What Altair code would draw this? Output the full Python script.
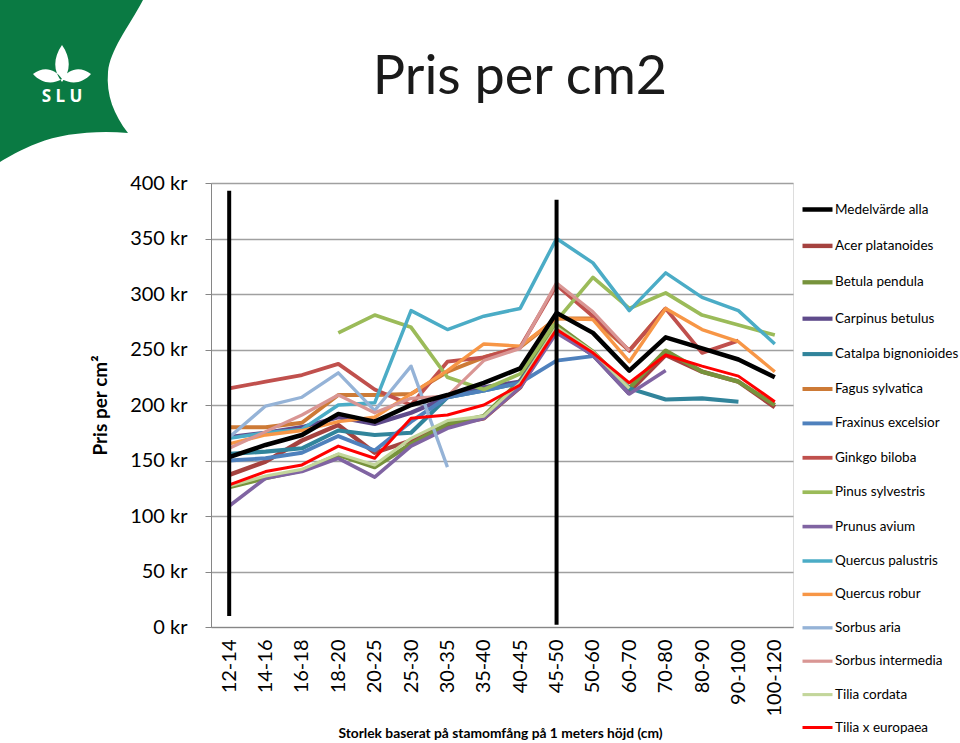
import altair as alt
import pandas as pd

categories = ["12-14", "14-16", "16-18", "18-20", "20-25", "25-30", "30-35", "35-40",
              "40-45", "45-50", "50-60", "60-70", "70-80", "80-90", "90-100", "100-120"]
N = None
medel = [153, 164, 173, 192, 185, 200, 209, 220, 233, 283, 265, 231, 261, 251, 241, 225]
acer = [137, 149, 168, 182, 157, 168, 182, 188, 216, 270, 246, 212, 245, 230, 221, 198]
betula = [126, 134, 141, 155, 144, 165, 183, 190, 222, 272, 248, 215, 249, 230, 221, 200]
carpinus = [171, 175, 180, 189, 183, 193, 207, 216, 221, 268, 245, 210, N, N, N, N]
catalpa = [156, 158, 161, 177, 173, 175, 207, 213, 220, 268, 245, 215, 205, 206, 203, N]
fagus = [180, 180, 184, 209, 209, 210, 230, 243, 252, 278, 278, 249, 287, N, N, N]
fraxinus = [150, 152, 157, 172, 159, 185, 207, 213, 220, 240, 244, N, N, N, N, N]
ginkgo = [215, 221, 227, 237, 214, 200, 239, 243, 252, 308, 280, 249, 287, 247, 258, N]
pinus = [N, N, N, 265, 281, 270, 225, 214, 228, 276, 315, 287, 301, 281, 272, 263]
prunus = [109, 134, 140, 152, 135, 163, 179, 188, 216, 265, 245, 210, 231, N, N, N]
qpalustris = [170, 175, 178, 200, 202, 285, 268, 280, 287, 350, 328, 285, 319, 297, 285, 255]
qrobur = [165, 173, 177, 185, 189, 210, 231, 255, 253, 278, 277, 239, 287, 268, 257, 230]
saria = [171, 199, 207, 229, 195, 235, 144, N, N, N, N, N, N, N, N, N]
sintermedia = [161, 176, 191, 209, 193, 206, 208, 240, 251, 310, 284, 249, N, N, N, N]
tcordata = [127, 136, 142, 156, 146, 170, 186, 190, 220, 270, 248, 215, N, N, N, N]
teuropaea = [128, 140, 146, 163, 152, 188, 191, 200, 218, 268, 247, 220, 245, 235, 226, 203]

series_names = ["Medelvärde alla", "Acer platanoides", "Betula pendula", "Carpinus betulus",
                "Catalpa bignonioides", "Fagus sylvatica", "Fraxinus excelsior", "Ginkgo biloba",
                "Pinus sylvestris", "Prunus avium", "Quercus palustris", "Quercus robur",
                "Sorbus aria", "Sorbus intermedia", "Tilia cordata", "Tilia x europaea"]
series_values = [medel, acer, betula, carpinus, catalpa, fagus, fraxinus, ginkgo, pinus,
                 prunus, qpalustris, qrobur, saria, sintermedia, tcordata, teuropaea]
series_colors = ["#000000", "#A5423F", "#77933C", "#5F4B8B", "#31849B", "#CD7A36", "#4F81BD",
                 "#C0504D", "#9BBB59", "#8064A2", "#4BACC6", "#F79646", "#95B3D7", "#D99694",
                 "#C3D69B", "#FF0000"]
series_widths = [4.5, 3, 3, 3, 3, 3, 3, 3, 3, 3, 3, 3, 3, 3, 3, 4.5]

# vertical marker lines
rule_cats = ["12-14", "45-50"]
rule_low = [10, 2]
rule_high = [393, 385]

rows = []
for name, vals in zip(series_names, series_values):
    for c, v in zip(categories, vals):
        if v is not None:
            rows.append({"cat": c, "series": name, "value": v})
df = pd.DataFrame(rows)
rules_df = pd.DataFrame({"cat": rule_cats, "lo": rule_low, "hi": rule_high})

FONT = "Lato"

x_enc = alt.X("cat:N", sort=categories,
              scale=alt.Scale(type="point", domain=categories, padding=0.5),
              axis=alt.Axis(title="Storlek baserat på stamomfång på 1 meters höjd (cm)",
                            labelAngle=-90, labelFontSize=20, labelFont=FONT, labelColor="#000000",
                            labelPadding=12, ticks=False, domainColor="#868686",
                            titleFont=FONT, titleFontSize=13.8, titleFontWeight="bold",
                            titleColor="#000000", titleX=289, titleY=106,
                            titleBaseline="middle"))
y_enc = alt.Y("value:Q", scale=alt.Scale(domain=[0, 400], nice=False),
              axis=alt.Axis(title="Pris per cm²", values=list(range(0, 401, 50)),
                            labelExpr="datum.value + ' kr'", labelFontSize=20, labelFont=FONT,
                            labelColor="#000000", labelPadding=18, tickSize=6, tickColor="#868686",
                            domainColor="#868686", gridColor="#A0A0A0", gridWidth=1.3,
                            titleFont=FONT, titleFontSize=19, titleFontWeight="bold",
                            titleColor="#000000", titleX=-111, titleY=222, titleAngle=-90,
                            titleAlign="center", titleBaseline="middle"))

legend = alt.Legend(title=None, orient="none", legendX=589, legendY=9, symbolType="stroke",
                    symbolSize=900, labelFont=FONT, labelFontSize=13.5, labelColor="#000000",
                    rowPadding=9.4, labelOffset=0, labelLimit=200)

color = alt.Color("series:N", scale=alt.Scale(domain=series_names, range=series_colors),
                  legend=legend)
swidth = alt.StrokeWidth("series:N", scale=alt.Scale(domain=series_names, range=series_widths),
                         legend=legend)

base = alt.Chart(df).mark_line(strokeJoin="round").encode(
    x=x_enc, y=y_enc, color=color, strokeWidth=swidth, detail="series:N")

thin = base.transform_filter(
    "datum.series != 'Medelvärde alla' && datum.series != 'Tilia x europaea'")
black = base.transform_filter("datum.series == 'Medelvärde alla'")
red = base.transform_filter("datum.series == 'Tilia x europaea'")

rules = alt.Chart(rules_df).mark_rule(color="#000000", strokeWidth=4).encode(
    x=alt.X("cat:N", sort=categories), y="lo:Q", y2="hi:Q")

one = pd.DataFrame({"k": [0]})
title = alt.Chart(one).mark_text(text="Pris per cm2", font=FONT, fontSize=54, color="#1a1a1a",
                                 align="center", baseline="alphabetic").encode(
    x=alt.value(309), y=alt.value(-89))

logo_shape = ("M0,0 L143,0 C128,28 110,50 108,72 C106,95 114,115 128,133 "
              "C95,130 60,134 38,143 C20,150 8,157 0,162 Z")
plant_shape = ("M62,45 C53,58 53,71 62,82 C71,71 71,58 62,45 Z "
               "M33,74 C43,66 55,68 62,79 C52,85 41,83 33,74 Z "
               "M91,74 C81,66 69,68 62,79 C72,85 83,83 91,74 Z")
logo = alt.Chart(one).mark_point(shape=logo_shape, size=4, filled=True, fill="#0A7A43",
                                 strokeWidth=0, opacity=1).encode(
    x=alt.value(-211), y=alt.value(-183))
plant = alt.Chart(one).mark_point(shape=plant_shape, size=4, filled=True, fill="#FFFFFF",
                                  strokeWidth=0, opacity=1).encode(
    x=alt.value(-211), y=alt.value(-183))
slu = alt.Chart(one).mark_text(text="S L U", font="Open Sans", fontSize=17, fontWeight="bold",
                               color="#FFFFFF", align="center", baseline="alphabetic").encode(
    x=alt.value(62 - 211), y=alt.value(102 - 183))

chart = alt.layer(thin, black, red, rules, title, logo, plant, slu).properties(
    width=582, height=444,
    autosize=alt.AutoSizeParams(type="none"),
    padding={"left": 211, "top": 183, "right": 167, "bottom": 116},
).configure_view(stroke=None).configure(background="#FFFFFF")

chart.save("out.html", embed_options={"renderer": "svg", "actions": False})
